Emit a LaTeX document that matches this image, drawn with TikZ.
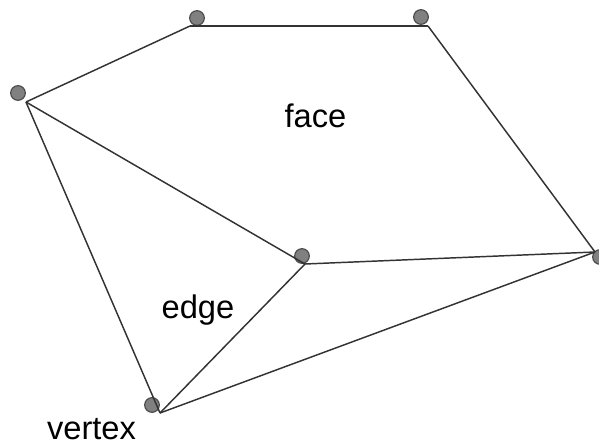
\documentclass[tikz,border=0pt]{standalone}
\usepackage{fontspec}
\setmainfont{Liberation Sans}
\begin{document}
\begin{tikzpicture}[x=0.75pt,y=-0.75pt,
  edgeline/.style={draw=black!80, line width=1.1pt},
  vert/.style={circle, draw=black!70, fill=black!50, line width=0.9pt, minimum size=11pt, inner sep=0pt},
  lbl/.style={anchor=base, font=\fontsize{24.5}{28}\selectfont, inner sep=0pt}]
\useasboundingbox (0,0) rectangle (599,446);
% circles (vertices)
\node[vert] (vA) at (197,18) {};
\node[vert] (vB) at (421,17) {};
\node[vert] (vC) at (18,93) {};
\node[vert] (vD) at (302,256) {};
\node[vert] (vE) at (600,257) {};
\node[vert] (vF) at (152,405) {};
% line end points
\coordinate (A) at (190,26);
\coordinate (B) at (428,26);
\coordinate (C) at (26,102);
\coordinate (D) at (305,264);
\coordinate (E) at (595,252);
\coordinate (F) at (160,413);
% edges
\draw[edgeline] (A) -- (B);
\draw[edgeline] (B) -- (E);
\draw[edgeline] (A) -- (C);
\draw[edgeline] (C) -- (D);
\draw[edgeline] (C) -- (F);
\draw[edgeline] (D) -- (E);
\draw[edgeline] (D) -- (F);
\draw[edgeline] (F) -- (E);
% labels
\node[lbl] (tface) at (315.5,127) {face};
\node[lbl] (tedge) at (198,318) {edge};
\node[lbl] (tvert) at (91.5,439) {vertex};
\end{tikzpicture}
\end{document}
